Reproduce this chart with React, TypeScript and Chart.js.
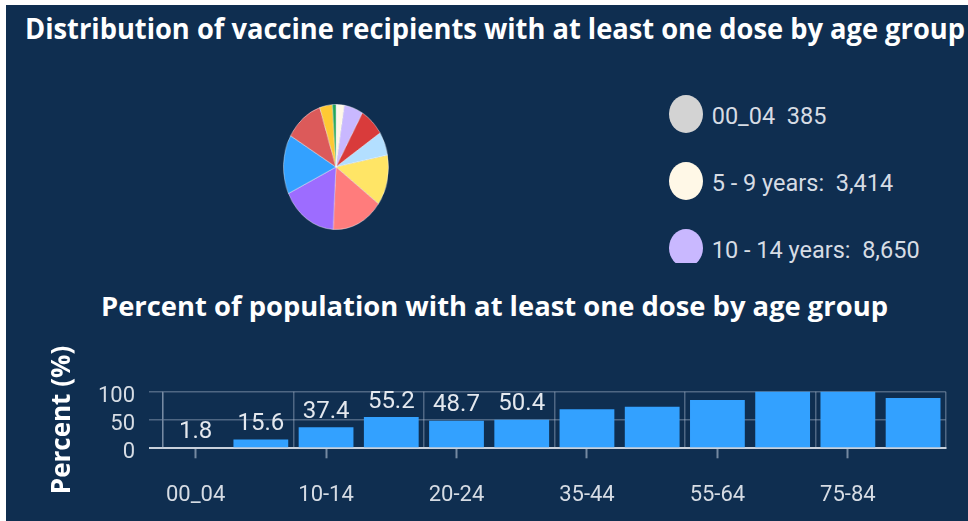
import React, { useEffect, useLayoutEffect, useRef } from "react";
import { Chart, registerables } from "chart.js";

Chart.register(...registerables);

// ---------- data ----------
const pieTitle = "Distribution of vaccine recipients with at least one dose by age group";
const barTitle = "Percent of population with at least one dose by age group";

const pieLabels = [
  "00_04",
  "5 - 9 years:",
  "10 - 14 years:",
  "15 - 19 years:",
  "20 - 24 years:",
  "25 - 34 years:",
  "35 - 44 years:",
  "45 - 54 years:",
  "55 - 64 years:",
  "65 - 74 years:",
  "75 - 84 years:",
  "85+ years:",
];
const pieValues = [385, 3414, 8650, 11100, 9060, 19400, 23500, 25500, 22700, 17300, 5800, 1650];
const pieColors = [
  "#d3d3d3",
  "#fff8e7",
  "#c9b8ff",
  "#d93b3b",
  "#b3dfff",
  "#ffe566",
  "#ff7c7c",
  "#9d6cff",
  "#33a1ff",
  "#dc5a5a",
  "#ffc933",
  "#22a55a",
];

const barCategories = ["00_04", "5-9", "10-14", "15-19", "20-24", "25-34", "35-44", "45-54", "55-64", "65-74", "75-84", "85+"];
const barValues = [1.8, 15.6, 37.4, 55.2, 48.7, 50.4, 68.9, 73.5, 85.3, 104.6, 107.2, 88.9];
const yTickValues = [0, 50, 100];
const yAxisTitle = "Percent (%)";
const labeledBarCount = 6;

// ---------- styles ----------
const BG = "#0f2e50";
const BAR_COLOR = "#33a1ff";
const GRID = "rgba(185,198,215,0.38)";
const ZERO_LINE = "#c9d1dc";
const TEXT_LIGHT = "#d6dce4";

function FitText({ text, width, style }: { text: string; width: number; style: React.CSSProperties }) {
  const ref = useRef<HTMLSpanElement>(null);
  useLayoutEffect(() => {
    const el = ref.current;
    if (!el) return;
    el.style.transform = "none";
    const w = el.getBoundingClientRect().width;
    if (w > 0) el.style.transform = `scaleX(${width / w})`;
  }, [text, width]);
  return (
    <span
      ref={ref}
      style={{ display: "inline-block", whiteSpace: "pre", transformOrigin: "0 0", ...style }}
    >
      {text}
    </span>
  );
}

const fmt = (n: number) => n.toLocaleString("en-US");

export default function App() {
  const pieRef = useRef<HTMLCanvasElement>(null);
  const barRef = useRef<HTMLCanvasElement>(null);

  useEffect(() => {
    if (!pieRef.current || !barRef.current) return;

    const pie = new Chart(pieRef.current, {
      type: "pie",
      data: {
        labels: pieLabels,
        datasets: [
          {
            data: pieValues,
            backgroundColor: pieColors,
            borderColor: "rgba(255,255,255,0.45)",
            borderWidth: 1,
          },
        ],
      },
      options: {
        responsive: false,
        animation: false,
        devicePixelRatio: 1,
        layout: { padding: 0 },
        plugins: { legend: { display: false }, tooltip: { enabled: false } },
      },
    });

    const barLabelPlugin = {
      id: "barLabels",
      afterDatasetsDraw(chart: any) {
        const meta = chart.getDatasetMeta(0);
        const ctx = chart.ctx;
        ctx.save();
        ctx.font = "24px Roboto";
        ctx.fillStyle = "#e4e8ee";
        ctx.textAlign = "center";
        ctx.textBaseline = "alphabetic";
        meta.data.forEach((el: any, i: number) => {
          if (i >= labeledBarCount) return;
          ctx.fillText(String(barValues[i]), el.x, el.y - 9.5);
        });
        ctx.restore();
      },
    };

    const bar = new Chart(barRef.current, {
      type: "bar",
      data: {
        labels: barCategories,
        datasets: [
          {
            data: barValues,
            backgroundColor: BAR_COLOR,
            borderWidth: 0,
            barPercentage: 0.84,
            categoryPercentage: 1,
            xAxisID: "x",
            yAxisID: "y",
          },
        ],
      },
      options: {
        responsive: false,
        animation: false,
        devicePixelRatio: 1,
        layout: { padding: { top: 56.7, right: 22.3, left: 0, bottom: 0 } },
        plugins: { legend: { display: false }, tooltip: { enabled: false } },
        scales: {
          x: {
            type: "category",
            position: "bottom",
            offset: true,
            ticks: { display: false, autoSkip: false },
            grid: {
              offset: true,
              drawTicks: false,
              lineWidth: 1.5,
              color: (c: any) =>
                c.index === undefined || c.index % 2 === 0 ? GRID : "rgba(0,0,0,0)",
            },
            border: { display: true, color: ZERO_LINE, width: 2 },
            afterFit: (s: any) => {
              s.height = 0;
            },
          },
          x2: {
            type: "category",
            position: "bottom",
            offset: true,
            grid: {
              offset: false,
              drawOnChartArea: false,
              drawTicks: true,
              tickLength: 10,
              tickWidth: 2,
              tickColor: (c: any) => (c.index % 2 === 0 ? "rgba(185,198,215,0.6)" : "rgba(0,0,0,0)"),
            },
            border: { display: false },
            ticks: {
              autoSkip: false,
              maxRotation: 0,
              padding: 24,
              color: TEXT_LIGHT,
              font: { family: "Roboto", size: 22 },
              callback: (_v: any, i: number) => (i % 2 === 0 ? barCategories[i] : ""),
            },
            afterFit: (s: any) => {
              s.height = 72.7;
            },
          },
          y: {
            min: 0,
            max: 100,
            afterBuildTicks: (s: any) => {
              s.ticks = yTickValues.map((v) => ({ value: v }));
            },
            ticks: {
              autoSkip: false,
              color: TEXT_LIGHT,
              padding: 14,
              labelOffset: 4.5,
              font: { family: "Roboto", size: 22 },
            },
            grid: {
              tickLength: 14,
              color: (c: any) => (c.tick && c.tick.value === 0 ? ZERO_LINE : GRID),
              lineWidth: (c: any) => (c.tick && c.tick.value === 0 ? 2 : 1.5),
            },
            border: { display: true, color: GRID, width: 1.5 },
            title: {
              display: true,
              text: yAxisTitle,
              color: "#ffffff",
              font: { family: "Open Sans", size: 26, weight: "bold" },
              padding: { top: 41.4, bottom: 0 },
            },
            afterFit: (s: any) => {
              s.width = 157;
            },
          },
        },
      },
      plugins: [barLabelPlugin],
    });

    return () => {
      pie.destroy();
      bar.destroy();
    };
  }, []);

  const legendTop0 = 108.8;
  const legendStep = 67;

  return (
    <>
      <style>{`html,body{margin:0;padding:0;overflow:hidden;background:#ffffff}`}</style>
      <div
        style={{
          position: "fixed",
          left: 6,
          top: 5,
          width: 962,
          height: 516,
          background: BG,
          overflow: "hidden",
        }}
      >
        <div style={{ position: "absolute", left: 19, top: 9, lineHeight: "28px", height: 28 }}>
          <FitText
            text={pieTitle}
            width={940}
            style={{ fontFamily: "'Open Sans'", fontWeight: 700, fontSize: 28, color: "#ffffff", lineHeight: "28px" }}
          />
        </div>

        <div
          style={{
            position: "absolute",
            left: 329.5 - 63,
            top: 161.7 - 63,
            width: 126,
            height: 126,
            transform: "scaleX(0.84)",
            transformOrigin: "50% 50%",
          }}
        >
          <canvas ref={pieRef} width={126} height={126} />
        </div>

        <div
          style={{
            position: "absolute",
            left: 640,
            top: 60,
            width: 322,
            height: 198,
            overflow: "hidden",
          }}
        >
          {pieLabels.map((lab, i) => {
            const cy = legendTop0 + legendStep * i - 60;
            return (
              <React.Fragment key={lab}>
                <div
                  style={{
                    position: "absolute",
                    left: 663 - 640,
                    top: cy - 19,
                    width: 34,
                    height: 38,
                    borderRadius: "50%",
                    background: pieColors[i],
                  }}
                />
                <div
                  style={{
                    position: "absolute",
                    left: 705.7 - 640,
                    top: cy - 8.6,
                    whiteSpace: "pre",
                    fontFamily: "Roboto",
                    fontSize: 23.5,
                    lineHeight: "23.5px",
                    color: TEXT_LIGHT,
                  }}
                >
                  {lab + "  " + fmt(pieValues[i])}
                </div>
              </React.Fragment>
            );
          })}
        </div>

        <div style={{ position: "absolute", left: 95, top: 288.6, lineHeight: "25px", height: 25 }}>
          <FitText
            text={barTitle}
            width={787}
            style={{ fontFamily: "'Open Sans'", fontWeight: 700, fontSize: 26, color: "#ffffff", lineHeight: "25px" }}
          />
        </div>

        <div style={{ position: "absolute", left: 0, top: 330, width: 962, height: 186 }}>
          <canvas ref={barRef} width={962} height={186} />
        </div>
      </div>
    </>
  );
}
